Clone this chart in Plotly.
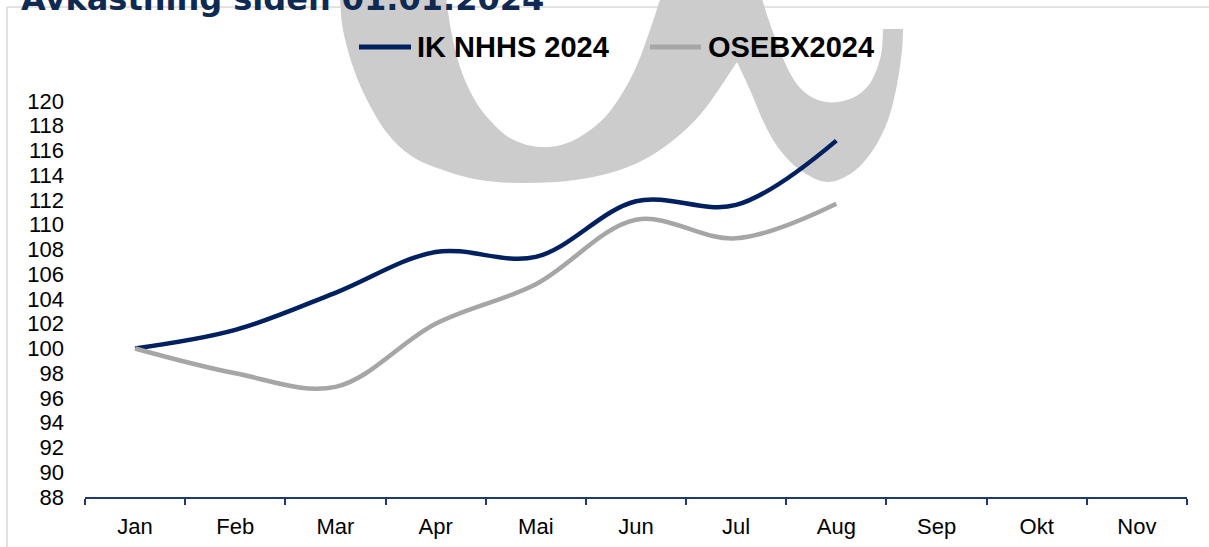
import plotly.graph_objects as go

# ---------------- data ----------------
months = ["Jan", "Feb", "Mar", "Apr", "Mai", "Jun", "Jul", "Aug", "Sep", "Okt", "Nov"]
series_names = ["IK NHHS 2024", "OSEBX2024"]
ik_nhhs = [100, 101.5, 104.5, 107.8, 107.4, 111.9, 111.6, 116.8]
osebx = [100, 98.0, 96.9, 102.0, 105.2, 110.4, 108.9, 111.7]
y_ticks = list(range(88, 121, 2))
title_text = "Avkastning siden 01.01.2024"

# ---------------- geometry helpers (pixels -> paper) ----------------
W, H = 1209, 547
L, R, T, B = 85, 22, 101, 50
PW, PH = W - L - R, H - T - B


def px(x):
    return (x - L) / PW


def py(y):
    return (H - B - y) / PH


def smooth(points):
    """Catmull-Rom -> cubic bezier path segment (without initial M)."""
    d = ""
    n = len(points)
    for i in range(n - 1):
        p0 = points[i - 1] if i > 0 else points[i]
        p1 = points[i]
        p2 = points[i + 1]
        p3 = points[i + 2] if i + 2 < n else points[i + 1]
        c1 = (p1[0] + (p2[0] - p0[0]) / 6, p1[1] + (p2[1] - p0[1]) / 6)
        c2 = (p2[0] - (p3[0] - p1[0]) / 6, p2[1] - (p3[1] - p1[1]) / 6)
        d += " C {:.5f},{:.5f} {:.5f},{:.5f} {:.5f},{:.5f}".format(
            px(c1[0]), py(c1[1]), px(c2[0]), py(c2[1]), px(p2[0]), py(p2[1]))
    return d


def lto(p):
    return " L {:.5f},{:.5f}".format(px(p[0]), py(p[1]))


# watermark (big grey alpha) contour in pixel coordinates
outer = [(338, -10), (340, 0), (343, 30), (353, 67), (367, 100), (387, 133), (410, 155),
         (437, 168), (480, 180), (527, 183), (575, 180), (620, 170), (660, 150),
         (700, 115), (737, 62)]
tail = [(737, 62), (750, 90), (765, 125), (780, 150), (800, 170), (827, 182), (853, 172),
        (873, 150), (888, 120), (897, 85), (902, 50), (903, 29)]
uhole = [(883, 29), (881, 55), (872, 80), (858, 95), (838, 102), (818, 100), (800, 88),
         (787, 67), (776, 40), (766, 12), (760, -10)]
inner = [(664, -10), (660, 0), (650, 30), (637, 65), (620, 97), (600, 122), (570, 142),
         (540, 147), (510, 138), (487, 117), (472, 95), (460, 67), (452, 35), (447, 5),
         (446, -10)]

path = "M {:.5f},{:.5f}".format(px(outer[0][0]), py(outer[0][1]))
path += smooth(outer)
path += smooth(tail)
path += lto(uhole[0])
path += smooth(uhole)
path += lto(inner[0])
path += smooth(inner)
path += " Z"

navy = "#002060"
grey = "#a6a6a6"

fig = go.Figure()
fig.add_trace(go.Scatter(x=months[:len(ik_nhhs)], y=ik_nhhs, name=series_names[0],
                         mode="lines", line=dict(color=navy, width=4.5, shape="spline", smoothing=1.0),
                         showlegend=False))
fig.add_trace(go.Scatter(x=months[:len(osebx)], y=osebx, name=series_names[1],
                         mode="lines", line=dict(color=grey, width=4.5, shape="spline", smoothing=1.0),
                         showlegend=False))

shapes = [
    # frame border
    dict(type="line", xref="paper", yref="paper", x0=px(7), x1=px(1215), y0=py(7), y1=py(7),
         line=dict(color="#d9d9d9", width=1.5), layer="below"),
    dict(type="line", xref="paper", yref="paper", x0=px(7), x1=px(7), y0=py(7), y1=py(560),
         line=dict(color="#d9d9d9", width=1.5), layer="below"),
    # watermark
    dict(type="path", xref="paper", yref="paper", path=path, fillcolor="#cccccc",
         line=dict(width=0), layer="below"),
    # legend symbols
    dict(type="line", xref="paper", yref="paper", x0=px(359), x1=px(411), y0=py(47), y1=py(47),
         line=dict(color=navy, width=5)),
    dict(type="line", xref="paper", yref="paper", x0=px(650), x1=px(701), y0=py(47), y1=py(47),
         line=dict(color=grey, width=5)),
]

annotations = [
    dict(text="<b>" + title_text + "</b>", xref="paper", yref="paper", x=px(19), y=py(-1.2),
         xanchor="left", yanchor="middle", showarrow=False,
         font=dict(family="DejaVu Sans", size=32, color="#0f2a52")),
    dict(text="<b>" + series_names[0] + "</b>", xref="paper", yref="paper", x=px(415), y=py(47),
         xanchor="left", yanchor="middle", showarrow=False,
         font=dict(family="Liberation Sans", size=29, color="#000000")),
    dict(text="<b>" + series_names[1] + "</b>", xref="paper", yref="paper", x=px(706), y=py(47),
         xanchor="left", yanchor="middle", showarrow=False,
         font=dict(family="Liberation Sans", size=29, color="#000000")),
]

fig.update_layout(
    width=W, height=H,
    margin=dict(l=L, r=R, t=T, b=B, pad=0, autoexpand=False),
    paper_bgcolor="white",
    plot_bgcolor="rgba(0,0,0,0)",
    shapes=shapes,
    annotations=annotations,
    showlegend=False,
    font=dict(family="Liberation Sans", size=22, color="black"),
)
fig.update_xaxes(type="category", categoryorder="array", categoryarray=months,
                 range=[-0.5, len(months) - 0.5], tickson="boundaries",
                 ticks="outside", ticklen=6, tickwidth=1.5, tickcolor="#1f3a6e",
                 showline=True, linecolor="#1f3a6e", linewidth=1.5, automargin=False,
                 showgrid=False, zeroline=False, fixedrange=True, ticklabelstandoff=9,
                 tickfont=dict(family="Liberation Sans", size=22, color="black"))
fig.update_yaxes(range=[88, 120], tickvals=y_ticks, ticktext=[str(v) for v in y_ticks],
                 showline=False, ticks="", showgrid=False, zeroline=False, automargin=False,
                 ticklabelstandoff=20, fixedrange=True,
                 tickfont=dict(family="Liberation Sans", size=22, color="black"))

post_js = ("document.body.style.margin='0';"
           "document.documentElement.style.overflow='hidden';"
           "document.body.style.overflow='hidden';")

fig.write_html("out.html", config={"displayModeBar": False}, post_script=post_js)
